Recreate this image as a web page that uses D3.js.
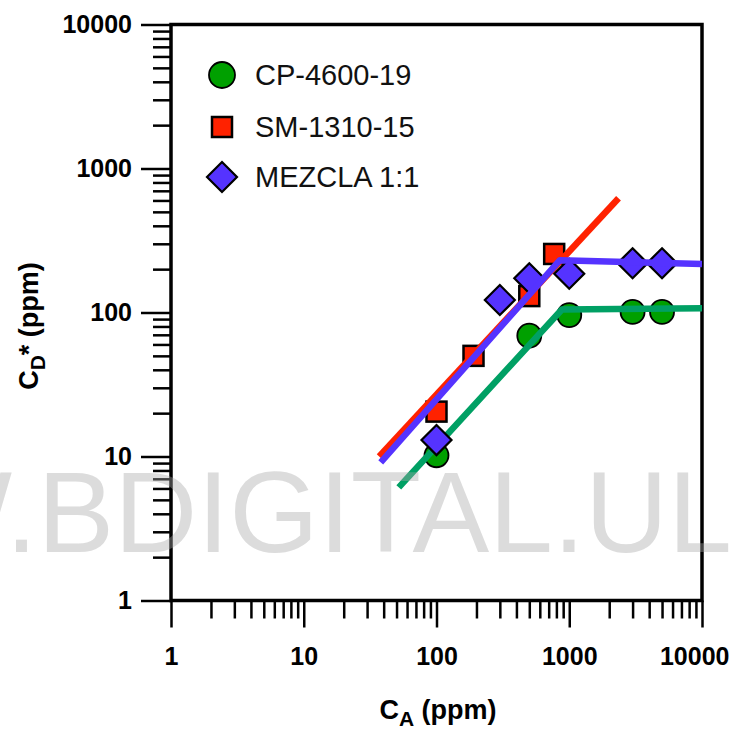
<!DOCTYPE html>
<html>
<head>
<meta charset="utf-8">
<script src="https://cdn.jsdelivr.net/npm/d3@7"></script>
<style>
  html, body { margin: 0; padding: 0; background: #fff; }
  svg { display: block; font-family: "Liberation Sans", Arial, sans-serif; }
</style>
</head>
<body>
<svg id="chart" width="732" height="730"></svg>
<script>
// ---------- data ----------
const seriesNames = ["CP-4600-19", "SM-1310-15", "MEZCLA 1:1"];

const cpX = [100, 500, 1000, 3000, 5000];
const cpY = [10.2, 69, 96, 101, 101];
const cpFitX = [52, 880, 10000];
const cpFitY = [6.1, 105, 107];

const smX = [100, 190, 500, 770];
const smY = [20.5, 50, 130, 255];
const smFitX = [37, 2350];
const smFitY = [10, 621];

const mzX = [100, 300, 500, 1000, 3000, 5000];
const mzY = [13, 122, 173, 186, 220, 220];
const mzFitX = [38, 850, 10000];
const mzFitY = [9.1, 231, 217];

const xMajor = [1, 10, 100, 1000, 10000];
const yMajor = [1, 10, 100, 1000, 10000];
const xTickLabels = ["1", "10", "100", "1000", "10000"];
const yTickLabels = ["1", "10", "100", "1000", "10000"];

// ---------- layout ----------
const svg = d3.select("#chart");
const L = 171, R = 702, T = 24.5, B = 600.5;

const x = d3.scaleLog().domain([1, 10000]).range([L, R]);
const y = d3.scaleLog().domain([1, 10000]).range([B, T]);

const minor = [];
for (let d = 1; d < 10000; d *= 10) for (let k = 2; k <= 9; k++) minor.push(d * k);

const xMinorAxis = d3.axisBottom(x).tickValues(minor).tickSize(18).tickFormat("");
const yMinorAxis = d3.axisLeft(y).tickValues(minor).tickSize(18).tickFormat("");
const xMajorAxis = d3.axisBottom(x).tickValues(xMajor).tickSize(27)
  .tickFormat((d, i) => xTickLabels[i]).tickPadding(20);
const yMajorAxis = d3.axisLeft(y).tickValues(yMajor).tickSize(30)
  .tickFormat((d, i) => yTickLabels[i]).tickPadding(9);

function styleAxis(g) {
  g.select(".domain").remove();
  g.selectAll(".tick line").attr("stroke", "#000").attr("stroke-width", 2.5);
  g.selectAll(".tick text").attr("fill", "#000")
    .style("font-family", "'Liberation Sans', Arial, sans-serif")
    .style("font-weight", "bold").style("font-size", "25px");
}

svg.append("g").attr("transform", `translate(0,${B})`).call(xMinorAxis).call(styleAxis);
svg.append("g").attr("transform", `translate(${L},0)`).call(yMinorAxis).call(styleAxis);
const gx = svg.append("g").attr("transform", `translate(0,${B})`).call(xMajorAxis).call(styleAxis);
svg.append("g").attr("transform", `translate(${L},0)`).call(yMajorAxis).call(styleAxis);
gx.selectAll(".tick text").attr("dy", "0.71em");
gx.selectAll(".tick").filter(d => d === 10000).select("text")
  .attr("text-anchor", "end").attr("dx", 27);

// frame
svg.append("rect").attr("x", L).attr("y", T).attr("width", R - L).attr("height", B - T)
  .attr("fill", "none").attr("stroke", "#000").attr("stroke-width", 3.5);

// ---------- series ----------
const line = d3.line().x(d => x(d[0])).y(d => y(d[1]));
const zip = (a, b) => a.map((v, i) => [v, b[i]]);

const colors = {
  cpFill: "#00a000", cpLine: "#00a064",
  smFill: "#ff2200", smLine: "#ff2200",
  mzFill: "#5533ff", mzLine: "#5533ff"
};

function circles(pts, fill) {
  svg.append("g").selectAll("circle").data(pts).join("circle")
    .attr("cx", d => x(d[0])).attr("cy", d => y(d[1])).attr("r", 12)
    .attr("fill", fill).attr("stroke", "#000").attr("stroke-width", 1.8);
}
function squares(pts, fill) {
  const s = 20;
  svg.append("g").selectAll("rect").data(pts).join("rect")
    .attr("x", d => x(d[0]) - s / 2).attr("y", d => y(d[1]) - s / 2)
    .attr("width", s).attr("height", s)
    .attr("fill", fill).attr("stroke", "#000").attr("stroke-width", 2.5);
}
function diamonds(pts, fill) {
  const h = 15;
  svg.append("g").selectAll("path").data(pts).join("path")
    .attr("d", d => {
      const cx = x(d[0]), cy = y(d[1]);
      return `M${cx},${cy - h}L${cx + h},${cy}L${cx},${cy + h}L${cx - h},${cy}Z`;
    })
    .attr("fill", fill).attr("stroke", "#000").attr("stroke-width", 2.2).attr("stroke-linejoin", "miter");
}
function fit(pts, color) {
  svg.append("path").datum(pts).attr("d", line)
    .attr("fill", "none").attr("stroke", color).attr("stroke-width", 6.5)
    .attr("stroke-linejoin", "round");
}

circles(zip(cpX, cpY), colors.cpFill);
fit(zip(cpFitX, cpFitY), colors.cpLine);
squares(zip(smX, smY), colors.smFill);
fit(zip(smFitX, smFitY), colors.smLine);
diamonds(zip(mzX, mzY), colors.mzFill);
fit(zip(mzFitX, mzFitY), colors.mzLine);

// ---------- legend ----------
const leg = svg.append("g");
const lx = 222, ly = [75, 127, 177];
leg.append("circle").attr("cx", lx).attr("cy", ly[0]).attr("r", 13)
  .attr("fill", colors.cpFill).attr("stroke", "#000").attr("stroke-width", 1.8);
leg.append("rect").attr("x", lx - 10).attr("y", ly[1] - 10).attr("width", 20).attr("height", 20)
  .attr("fill", colors.smFill).attr("stroke", "#000").attr("stroke-width", 2.5);
leg.append("path")
  .attr("d", `M${lx},${ly[2] - 15}L${lx + 15},${ly[2]}L${lx},${ly[2] + 15}L${lx - 15},${ly[2]}Z`)
  .attr("fill", colors.mzFill).attr("stroke", "#000").attr("stroke-width", 2.2);
leg.selectAll("text").data(seriesNames).join("text")
  .attr("x", 255).attr("y", (d, i) => ly[i] + 10)
  .attr("fill", "#111").style("font-size", "29px").text(d => d);

// ---------- axis titles ----------
const xt = svg.append("text").attr("x", 438).attr("y", 719).attr("text-anchor", "middle")
  .style("font-weight", "bold").style("font-size", "27px").attr("fill", "#000");
xt.append("tspan").text("C");
xt.append("tspan").attr("dy", 7).style("font-size", "21px").text("A");
xt.append("tspan").attr("dy", -7).text(" (ppm)");

const yt = svg.append("text").attr("transform", "translate(38,326) rotate(-90)")
  .attr("text-anchor", "middle")
  .style("font-weight", "bold").style("font-size", "27px").attr("fill", "#000");
yt.append("tspan").text("C");
yt.append("tspan").attr("dy", 7).style("font-size", "21px").text("D");
yt.append("tspan").attr("dy", -7).text("* (ppm)");

// ---------- watermark ----------
svg.append("text").attr("x", 12 - 3 * 0.944 * 115).attr("y", 552)
  .style("font-family", "'Liberation Sans', Arial, sans-serif")
  .style("font-size", "115px").attr("fill", "#a8a8a8").attr("fill-opacity", 0.4)
  .text("WWW.BDIGITAL.ULA.VE");
</script>
</body>
</html>
